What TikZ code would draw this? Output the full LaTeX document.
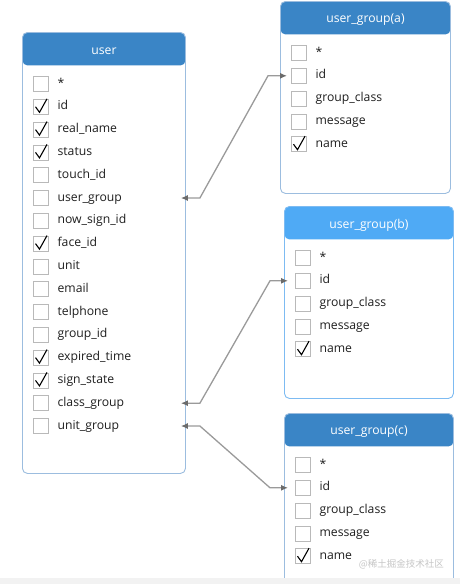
\documentclass[tikz,border=0pt]{standalone}
\usepackage{fontspec}
\setmainfont{Open Sans}
\newfontfamily\cjk{Noto Sans CJK SC}
\usepackage{tikz}
\usetikzlibrary{arrows.meta, positioning, calc}
\definecolor{hdblue}{HTML}{3A85C6}
\definecolor{hdlight}{HTML}{4FAAF5}
\definecolor{bdblue}{HTML}{9CBDDF}
\definecolor{bdlight}{HTML}{7DBBF2}
\definecolor{linkgray}{HTML}{9A9A9A}
\definecolor{tipgray}{HTML}{6B6B6B}
\tikzset{table/.style 2 args={rectangle, rounded corners=5pt, draw=#2, line width=0.9pt, fill=white, anchor=north west, inner sep=0pt,
  path picture={\fill[#1] (path picture bounding box.north west) rectangle ([yshift=-33pt]path picture bounding box.north east);}}}
\tikzstyle{head} = [text=white, font=\fontsize{12.2}{14}\selectfont]
\tikzstyle{chkbox} = [rectangle, draw=gray!55, line width=0.8pt, minimum size=15pt, inner sep=0pt]
\tikzstyle{field} = [anchor=west, inner sep=0pt, text height=9pt, text depth=3pt, text=black!88, font=\fontsize{12.2}{14}\selectfont]
\tikzstyle{tick} = [line width=1.1pt, black]
\tikzstyle{link} = [line width=1.3pt, draw=linkgray, {Latex[length=7pt,width=6pt,color=tipgray]}-{Latex[length=7pt,width=6pt,color=tipgray]}]

\begin{document}
\begin{tikzpicture}[x=1pt, y=-1pt]
  \useasboundingbox (0,0) rectangle (460,584);

  % tables
  \node[table={hdblue}{bdblue}, minimum width=163pt, minimum height=441pt] (user) at (22,32) {};
  \node[table={hdblue}{bdblue}, minimum width=170pt, minimum height=192pt] (a) at (280,1) {};
  \node[table={hdlight}{bdlight}, minimum width=169pt, minimum height=192pt] (b) at (284,206) {};
  \node[table={hdblue}{bdblue}, minimum width=169pt, minimum height=190pt] (c) at (284,413) {};

  \node[head] (usertitle) at ([yshift=-19pt]user.north) {user};
  \node[head] (atitle) at ([yshift=-19pt]a.north) {user\_group(a)};
  \node[head] (btitle) at ([yshift=-19pt]b.north) {user\_group(b)};
  \node[head] (ctitle) at ([yshift=-19pt]c.north) {user\_group(c)};

  % fields of user
  \foreach \f/\c [count=\i] in {*/0, id/1, real\_name/1, status/1, touch\_id/0, user\_group/0, now\_sign\_id/0, face\_id/1,
      unit/0, email/0, telphone/0, group\_id/0, expired\_time/1, sign\_state/1, class\_group/0, unit\_group/0} {
    \node[chkbox] (ubox\i) at ($(user.north west)+(19,52+22.8*\i-22.8)$) {};
    \node[field, right=8.5pt of ubox\i] (u\i) {\f};
    \ifnum\c=1 \draw[tick] ([shift={(-5.5,0)}]ubox\i.center) -- ([shift={(-1.5,5.5)}]ubox\i.center) -- ([shift={(6,-8)}]ubox\i.center); \fi
  }

  % fields of the groups
  \foreach \t in {a,b,c} {
    \foreach \f/\c [count=\i] in {*/0, id/0, group\_class/0, message/0, name/1} {
      \node[chkbox] (\t box\i) at ($(\t.north west)+(19,52+22.8*\i-22.8)$) {};
      \node[field, right=8.5pt of \t box\i] (\t\i) {\f};
      \ifnum\c=1 \draw[tick] ([shift={(-5.5,0)}]\t box\i.center) -- ([shift={(-1.5,5.5)}]\t box\i.center) -- ([shift={(6,-8)}]\t box\i.center); \fi
    }
  }

  % links
  \draw[link] ($(user.east |- u6)+(-5,0)$) -- ++(19,0) -- ($(a.west |- a2)+(-12,0)$) -- ($(a.west |- a2)+(7,0)$);
  \draw[link] ($(user.east |- u15)+(-5,0)$) -- ++(19,0) -- ($(b.west |- b2)+(-14,0)$) -- ($(b.west |- b2)+(4,0)$);
  \draw[link] ($(user.east |- u16)+(-5,0)$) -- ++(19,0) -- ($(c.west |- c2)+(-14,0)$) -- ($(c.west |- c2)+(4,0)$);

  \node[anchor=east, inner sep=0pt, text=gray!45, font=\cjk\fontsize{9.5}{11}\selectfont] (mark) at (444,564) {@稀土掘金技术社区};
  \fill[gray!10] (0,578) rectangle (460,584);
\end{tikzpicture}
\end{document}
